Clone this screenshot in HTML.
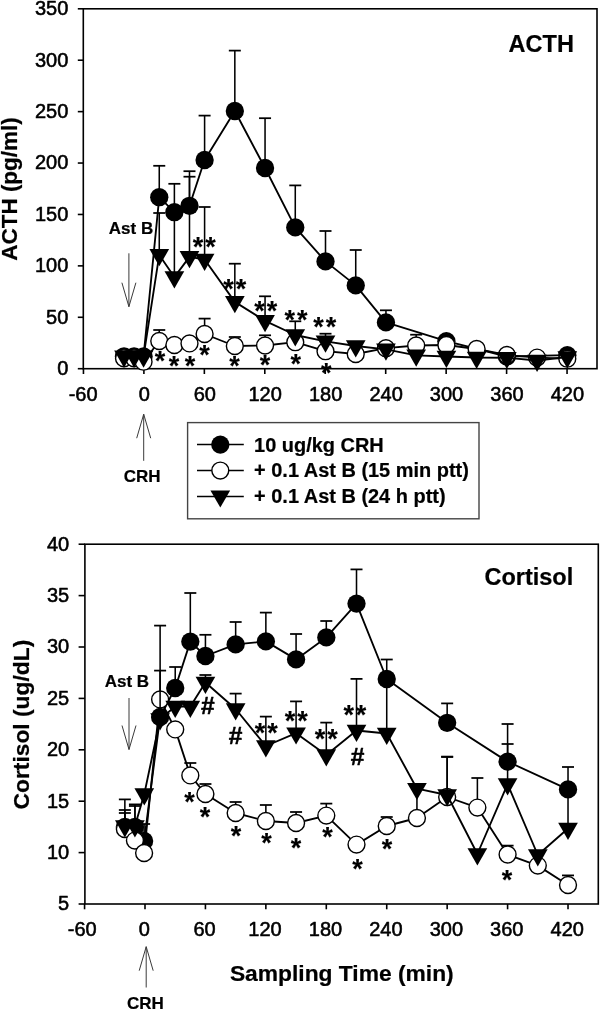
<!DOCTYPE html>
<html lang="en">
<head>
<meta charset="utf-8">
<title>ACTH and Cortisol response</title>
<style>
html,body{margin:0;padding:0;background:#fff;}
body{width:600px;height:1010px;overflow:hidden;}
svg{display:block;font-family:"Liberation Sans", Arial, Helvetica, sans-serif;}
svg text{font-family:"Liberation Sans", Arial, Helvetica, sans-serif;stroke:#000;stroke-width:0.55px;stroke-linejoin:round;}
svg text.b{stroke-width:0.22px;}
svg text.a{stroke-width:0.15px;}
svg text.h{stroke-width:0.5px;}
</style>
</head>
<body>
<svg width="600" height="1010" viewBox="0 0 600 1010">
<rect x="0" y="0" width="600" height="1010" fill="#fff"/>
<g fill="#000">
<line x1="77.80" y1="368.70" x2="83.30" y2="368.70" stroke="#000" stroke-width="1.6"/>
<line x1="77.80" y1="317.29" x2="83.30" y2="317.29" stroke="#000" stroke-width="1.6"/>
<line x1="77.80" y1="265.87" x2="83.30" y2="265.87" stroke="#000" stroke-width="1.6"/>
<line x1="77.80" y1="214.46" x2="83.30" y2="214.46" stroke="#000" stroke-width="1.6"/>
<line x1="77.80" y1="163.04" x2="83.30" y2="163.04" stroke="#000" stroke-width="1.6"/>
<line x1="77.80" y1="111.63" x2="83.30" y2="111.63" stroke="#000" stroke-width="1.6"/>
<line x1="77.80" y1="60.21" x2="83.30" y2="60.21" stroke="#000" stroke-width="1.6"/>
<line x1="77.80" y1="8.80" x2="83.30" y2="8.80" stroke="#000" stroke-width="1.6"/>
<line x1="83.45" y1="368.70" x2="83.45" y2="374.00" stroke="#000" stroke-width="1.6"/>
<line x1="143.90" y1="368.70" x2="143.90" y2="374.00" stroke="#000" stroke-width="1.6"/>
<line x1="204.35" y1="368.70" x2="204.35" y2="374.00" stroke="#000" stroke-width="1.6"/>
<line x1="264.80" y1="368.70" x2="264.80" y2="374.00" stroke="#000" stroke-width="1.6"/>
<line x1="325.25" y1="368.70" x2="325.25" y2="374.00" stroke="#000" stroke-width="1.6"/>
<line x1="385.70" y1="368.70" x2="385.70" y2="374.00" stroke="#000" stroke-width="1.6"/>
<line x1="446.15" y1="368.70" x2="446.15" y2="374.00" stroke="#000" stroke-width="1.6"/>
<line x1="506.60" y1="368.70" x2="506.60" y2="374.00" stroke="#000" stroke-width="1.6"/>
<line x1="567.05" y1="368.70" x2="567.05" y2="374.00" stroke="#000" stroke-width="1.6"/>
<rect x="83.30" y="8.80" width="513.70" height="359.90" fill="none" stroke="#000" stroke-width="1.6"/>
<text x="68.30" y="375.00" font-size="20" text-anchor="end" font-weight="normal">0</text>
<text x="68.30" y="323.59" font-size="20" text-anchor="end" font-weight="normal">50</text>
<text x="68.30" y="272.17" font-size="20" text-anchor="end" font-weight="normal">100</text>
<text x="68.30" y="220.76" font-size="20" text-anchor="end" font-weight="normal">150</text>
<text x="68.30" y="169.34" font-size="20" text-anchor="end" font-weight="normal">200</text>
<text x="68.30" y="117.93" font-size="20" text-anchor="end" font-weight="normal">250</text>
<text x="68.30" y="66.51" font-size="20" text-anchor="end" font-weight="normal">300</text>
<text x="68.30" y="15.10" font-size="20" text-anchor="end" font-weight="normal">350</text>
<text x="83.15" y="401.20" font-size="20" text-anchor="middle" font-weight="normal">-60</text>
<text x="144.30" y="401.20" font-size="20" text-anchor="middle" font-weight="normal">0</text>
<text x="204.75" y="401.20" font-size="20" text-anchor="middle" font-weight="normal">60</text>
<text x="265.20" y="401.20" font-size="20" text-anchor="middle" font-weight="normal">120</text>
<text x="325.65" y="401.20" font-size="20" text-anchor="middle" font-weight="normal">180</text>
<text x="386.10" y="401.20" font-size="20" text-anchor="middle" font-weight="normal">240</text>
<text x="446.55" y="401.20" font-size="20" text-anchor="middle" font-weight="normal">300</text>
<text x="507.00" y="401.20" font-size="20" text-anchor="middle" font-weight="normal">360</text>
<text x="567.45" y="401.20" font-size="20" text-anchor="middle" font-weight="normal">420</text>
<line x1="78.60" y1="904.00" x2="84.90" y2="904.00" stroke="#000" stroke-width="1.6"/>
<line x1="78.60" y1="852.60" x2="84.90" y2="852.60" stroke="#000" stroke-width="1.6"/>
<line x1="78.60" y1="801.20" x2="84.90" y2="801.20" stroke="#000" stroke-width="1.6"/>
<line x1="78.60" y1="749.80" x2="84.90" y2="749.80" stroke="#000" stroke-width="1.6"/>
<line x1="78.60" y1="698.40" x2="84.90" y2="698.40" stroke="#000" stroke-width="1.6"/>
<line x1="78.60" y1="647.00" x2="84.90" y2="647.00" stroke="#000" stroke-width="1.6"/>
<line x1="78.60" y1="595.60" x2="84.90" y2="595.60" stroke="#000" stroke-width="1.6"/>
<line x1="78.60" y1="544.20" x2="84.90" y2="544.20" stroke="#000" stroke-width="1.6"/>
<line x1="84.57" y1="904.00" x2="84.57" y2="909.30" stroke="#000" stroke-width="1.6"/>
<line x1="145.00" y1="904.00" x2="145.00" y2="909.30" stroke="#000" stroke-width="1.6"/>
<line x1="205.43" y1="904.00" x2="205.43" y2="909.30" stroke="#000" stroke-width="1.6"/>
<line x1="265.86" y1="904.00" x2="265.86" y2="909.30" stroke="#000" stroke-width="1.6"/>
<line x1="326.30" y1="904.00" x2="326.30" y2="909.30" stroke="#000" stroke-width="1.6"/>
<line x1="386.73" y1="904.00" x2="386.73" y2="909.30" stroke="#000" stroke-width="1.6"/>
<line x1="447.16" y1="904.00" x2="447.16" y2="909.30" stroke="#000" stroke-width="1.6"/>
<line x1="507.59" y1="904.00" x2="507.59" y2="909.30" stroke="#000" stroke-width="1.6"/>
<line x1="568.02" y1="904.00" x2="568.02" y2="909.30" stroke="#000" stroke-width="1.6"/>
<rect x="84.90" y="544.20" width="513.40" height="359.80" fill="none" stroke="#000" stroke-width="1.6"/>
<text x="69.20" y="910.30" font-size="20" text-anchor="end" font-weight="normal">5</text>
<text x="69.20" y="858.90" font-size="20" text-anchor="end" font-weight="normal">10</text>
<text x="69.20" y="807.50" font-size="20" text-anchor="end" font-weight="normal">15</text>
<text x="69.20" y="756.10" font-size="20" text-anchor="end" font-weight="normal">20</text>
<text x="69.20" y="704.70" font-size="20" text-anchor="end" font-weight="normal">25</text>
<text x="69.20" y="653.30" font-size="20" text-anchor="end" font-weight="normal">30</text>
<text x="69.20" y="601.90" font-size="20" text-anchor="end" font-weight="normal">35</text>
<text x="69.20" y="550.50" font-size="20" text-anchor="end" font-weight="normal">40</text>
<text x="82.27" y="936.10" font-size="20" text-anchor="middle" font-weight="normal">-60</text>
<text x="144.20" y="936.10" font-size="20" text-anchor="middle" font-weight="normal">0</text>
<text x="204.63" y="936.10" font-size="20" text-anchor="middle" font-weight="normal">60</text>
<text x="265.06" y="936.10" font-size="20" text-anchor="middle" font-weight="normal">120</text>
<text x="325.50" y="936.10" font-size="20" text-anchor="middle" font-weight="normal">180</text>
<text x="385.93" y="936.10" font-size="20" text-anchor="middle" font-weight="normal">240</text>
<text x="446.36" y="936.10" font-size="20" text-anchor="middle" font-weight="normal">300</text>
<text x="506.79" y="936.10" font-size="20" text-anchor="middle" font-weight="normal">360</text>
<text x="567.22" y="936.10" font-size="20" text-anchor="middle" font-weight="normal">420</text>
<polyline points="124.00,356.30 134.08,356.30 143.55,356.50 159.26,197.20 174.38,212.20 189.49,205.80 204.60,160.00 234.83,111.00 265.05,168.00 295.27,227.40 325.50,261.40 355.73,285.40 385.95,322.40 446.40,341.20 506.85,356.50 567.30,355.20" fill="none" stroke="#000" stroke-width="1.85" stroke-linejoin="round"/>
<line x1="159.26" y1="197.20" x2="159.26" y2="165.80" stroke="#000" stroke-width="1.55"/>
<line x1="153.26" y1="165.80" x2="165.26" y2="165.80" stroke="#000" stroke-width="1.75"/>
<line x1="174.38" y1="212.20" x2="174.38" y2="183.80" stroke="#000" stroke-width="1.55"/>
<line x1="168.38" y1="183.80" x2="180.38" y2="183.80" stroke="#000" stroke-width="1.75"/>
<line x1="189.49" y1="205.80" x2="189.49" y2="171.20" stroke="#000" stroke-width="1.55"/>
<line x1="183.49" y1="171.20" x2="195.49" y2="171.20" stroke="#000" stroke-width="1.75"/>
<line x1="204.60" y1="160.00" x2="204.60" y2="115.60" stroke="#000" stroke-width="1.55"/>
<line x1="198.60" y1="115.60" x2="210.60" y2="115.60" stroke="#000" stroke-width="1.75"/>
<line x1="234.83" y1="111.00" x2="234.83" y2="50.60" stroke="#000" stroke-width="1.55"/>
<line x1="228.83" y1="50.60" x2="240.83" y2="50.60" stroke="#000" stroke-width="1.75"/>
<line x1="265.05" y1="168.00" x2="265.05" y2="118.20" stroke="#000" stroke-width="1.55"/>
<line x1="259.05" y1="118.20" x2="271.05" y2="118.20" stroke="#000" stroke-width="1.75"/>
<line x1="295.27" y1="227.40" x2="295.27" y2="185.40" stroke="#000" stroke-width="1.55"/>
<line x1="289.27" y1="185.40" x2="301.27" y2="185.40" stroke="#000" stroke-width="1.75"/>
<line x1="325.50" y1="261.40" x2="325.50" y2="231.00" stroke="#000" stroke-width="1.55"/>
<line x1="319.50" y1="231.00" x2="331.50" y2="231.00" stroke="#000" stroke-width="1.75"/>
<line x1="355.73" y1="285.40" x2="355.73" y2="250.00" stroke="#000" stroke-width="1.55"/>
<line x1="349.73" y1="250.00" x2="361.73" y2="250.00" stroke="#000" stroke-width="1.75"/>
<line x1="385.95" y1="322.40" x2="385.95" y2="310.30" stroke="#000" stroke-width="1.55"/>
<line x1="379.95" y1="310.30" x2="391.95" y2="310.30" stroke="#000" stroke-width="1.75"/>
<circle cx="124.00" cy="356.30" r="9.15" fill="#000"/>
<circle cx="134.08" cy="356.30" r="9.15" fill="#000"/>
<circle cx="143.55" cy="356.50" r="9.15" fill="#000"/>
<circle cx="159.26" cy="197.20" r="9.15" fill="#000"/>
<circle cx="174.38" cy="212.20" r="9.15" fill="#000"/>
<circle cx="189.49" cy="205.80" r="9.15" fill="#000"/>
<circle cx="204.60" cy="160.00" r="9.15" fill="#000"/>
<circle cx="234.83" cy="111.00" r="9.15" fill="#000"/>
<circle cx="265.05" cy="168.00" r="9.15" fill="#000"/>
<circle cx="295.27" cy="227.40" r="9.15" fill="#000"/>
<circle cx="325.50" cy="261.40" r="9.15" fill="#000"/>
<circle cx="355.73" cy="285.40" r="9.15" fill="#000"/>
<circle cx="385.95" cy="322.40" r="9.15" fill="#000"/>
<circle cx="446.40" cy="341.20" r="9.15" fill="#000"/>
<circle cx="506.85" cy="356.50" r="9.15" fill="#000"/>
<circle cx="567.30" cy="355.20" r="9.15" fill="#000"/>
<polyline points="124.00,358.30 134.08,358.30 143.55,361.70 159.26,341.00 174.38,345.00 189.49,343.40 204.60,334.00 234.83,346.00 265.05,345.50 295.27,342.20 325.50,351.20 355.73,354.00 385.95,348.20 416.18,345.50 446.40,345.00 476.62,349.00 506.85,355.00 537.08,357.60 567.30,358.70" fill="none" stroke="#000" stroke-width="1.85" stroke-linejoin="round"/>
<line x1="159.26" y1="341.00" x2="159.26" y2="330.00" stroke="#000" stroke-width="1.55"/>
<line x1="153.26" y1="330.00" x2="165.26" y2="330.00" stroke="#000" stroke-width="1.75"/>
<line x1="204.60" y1="334.00" x2="204.60" y2="318.60" stroke="#000" stroke-width="1.55"/>
<line x1="198.60" y1="318.60" x2="210.60" y2="318.60" stroke="#000" stroke-width="1.75"/>
<line x1="234.83" y1="346.00" x2="234.83" y2="337.00" stroke="#000" stroke-width="1.55"/>
<line x1="228.83" y1="337.00" x2="240.83" y2="337.00" stroke="#000" stroke-width="1.75"/>
<line x1="265.05" y1="345.50" x2="265.05" y2="335.30" stroke="#000" stroke-width="1.55"/>
<line x1="259.05" y1="335.30" x2="271.05" y2="335.30" stroke="#000" stroke-width="1.75"/>
<line x1="416.18" y1="345.50" x2="416.18" y2="334.70" stroke="#000" stroke-width="1.55"/>
<line x1="410.18" y1="334.70" x2="422.18" y2="334.70" stroke="#000" stroke-width="1.75"/>
<circle cx="124.00" cy="358.30" r="8.45" fill="#fff" stroke="#000" stroke-width="1.4"/>
<circle cx="134.08" cy="358.30" r="8.45" fill="#fff" stroke="#000" stroke-width="1.4"/>
<circle cx="143.55" cy="361.70" r="8.45" fill="#fff" stroke="#000" stroke-width="1.4"/>
<circle cx="159.26" cy="341.00" r="8.45" fill="#fff" stroke="#000" stroke-width="1.4"/>
<circle cx="174.38" cy="345.00" r="8.45" fill="#fff" stroke="#000" stroke-width="1.4"/>
<circle cx="189.49" cy="343.40" r="8.45" fill="#fff" stroke="#000" stroke-width="1.4"/>
<circle cx="204.60" cy="334.00" r="8.45" fill="#fff" stroke="#000" stroke-width="1.4"/>
<circle cx="234.83" cy="346.00" r="8.45" fill="#fff" stroke="#000" stroke-width="1.4"/>
<circle cx="265.05" cy="345.50" r="8.45" fill="#fff" stroke="#000" stroke-width="1.4"/>
<circle cx="295.27" cy="342.20" r="8.45" fill="#fff" stroke="#000" stroke-width="1.4"/>
<circle cx="325.50" cy="351.20" r="8.45" fill="#fff" stroke="#000" stroke-width="1.4"/>
<circle cx="355.73" cy="354.00" r="8.45" fill="#fff" stroke="#000" stroke-width="1.4"/>
<circle cx="385.95" cy="348.20" r="8.45" fill="#fff" stroke="#000" stroke-width="1.4"/>
<circle cx="416.18" cy="345.50" r="8.45" fill="#fff" stroke="#000" stroke-width="1.4"/>
<circle cx="446.40" cy="345.00" r="8.45" fill="#fff" stroke="#000" stroke-width="1.4"/>
<circle cx="476.62" cy="349.00" r="8.45" fill="#fff" stroke="#000" stroke-width="1.4"/>
<circle cx="506.85" cy="355.00" r="8.45" fill="#fff" stroke="#000" stroke-width="1.4"/>
<circle cx="537.08" cy="357.60" r="8.45" fill="#fff" stroke="#000" stroke-width="1.4"/>
<circle cx="567.30" cy="358.70" r="8.45" fill="#fff" stroke="#000" stroke-width="1.4"/>
<polyline points="124.00,356.30 134.08,356.30 143.55,356.30 159.26,254.90 174.38,277.10 189.49,256.90 204.60,259.50 234.83,301.90 265.05,320.80 295.27,335.00 325.50,341.30 355.73,346.00 385.95,349.30 416.18,355.30 446.40,356.50 476.62,357.50 506.85,357.70 537.08,360.50 567.30,357.00" fill="none" stroke="#000" stroke-width="1.85" stroke-linejoin="round"/>
<line x1="159.26" y1="254.90" x2="159.26" y2="213.00" stroke="#000" stroke-width="1.55"/>
<line x1="153.26" y1="213.00" x2="165.26" y2="213.00" stroke="#000" stroke-width="1.75"/>
<line x1="174.38" y1="277.10" x2="174.38" y2="210.00" stroke="#000" stroke-width="1.55"/>
<line x1="168.38" y1="210.00" x2="180.38" y2="210.00" stroke="#000" stroke-width="1.75"/>
<line x1="189.49" y1="256.90" x2="189.49" y2="176.70" stroke="#000" stroke-width="1.55"/>
<line x1="183.49" y1="176.70" x2="195.49" y2="176.70" stroke="#000" stroke-width="1.75"/>
<line x1="204.60" y1="259.50" x2="204.60" y2="207.00" stroke="#000" stroke-width="1.55"/>
<line x1="198.60" y1="207.00" x2="210.60" y2="207.00" stroke="#000" stroke-width="1.75"/>
<line x1="234.83" y1="301.90" x2="234.83" y2="263.70" stroke="#000" stroke-width="1.55"/>
<line x1="228.83" y1="263.70" x2="240.83" y2="263.70" stroke="#000" stroke-width="1.75"/>
<line x1="265.05" y1="320.80" x2="265.05" y2="296.30" stroke="#000" stroke-width="1.55"/>
<line x1="259.05" y1="296.30" x2="271.05" y2="296.30" stroke="#000" stroke-width="1.75"/>
<line x1="295.27" y1="335.00" x2="295.27" y2="321.30" stroke="#000" stroke-width="1.55"/>
<line x1="289.27" y1="321.30" x2="301.27" y2="321.30" stroke="#000" stroke-width="1.75"/>
<line x1="325.50" y1="341.30" x2="325.50" y2="333.70" stroke="#000" stroke-width="1.55"/>
<line x1="319.50" y1="333.70" x2="331.50" y2="333.70" stroke="#000" stroke-width="1.75"/>
<polygon points="114.15,350.50 133.85,350.50 124.00,367.70" fill="#000"/>
<polygon points="124.23,350.50 143.93,350.50 134.08,367.70" fill="#000"/>
<polygon points="133.70,350.50 153.40,350.50 143.55,367.70" fill="#000"/>
<polygon points="149.41,249.10 169.11,249.10 159.26,266.30" fill="#000"/>
<polygon points="164.53,271.30 184.22,271.30 174.38,288.50" fill="#000"/>
<polygon points="179.64,251.10 199.34,251.10 189.49,268.30" fill="#000"/>
<polygon points="194.75,253.70 214.45,253.70 204.60,270.90" fill="#000"/>
<polygon points="224.98,296.10 244.68,296.10 234.83,313.30" fill="#000"/>
<polygon points="255.20,315.00 274.90,315.00 265.05,332.20" fill="#000"/>
<polygon points="285.42,329.20 305.12,329.20 295.27,346.40" fill="#000"/>
<polygon points="315.65,335.50 335.35,335.50 325.50,352.70" fill="#000"/>
<polygon points="345.88,340.20 365.58,340.20 355.73,357.40" fill="#000"/>
<polygon points="376.10,343.50 395.80,343.50 385.95,360.70" fill="#000"/>
<polygon points="406.33,349.50 426.03,349.50 416.18,366.70" fill="#000"/>
<polygon points="436.55,350.70 456.25,350.70 446.40,367.90" fill="#000"/>
<polygon points="466.77,351.70 486.48,351.70 476.62,368.90" fill="#000"/>
<polygon points="497.00,351.90 516.70,351.90 506.85,369.10" fill="#000"/>
<polygon points="527.23,354.70 546.93,354.70 537.08,371.90" fill="#000"/>
<polygon points="557.45,351.20 577.15,351.20 567.30,368.40" fill="#000"/>
<polyline points="124.86,827.00 134.93,827.00 144.10,841.00 160.11,717.00 175.22,688.00 190.32,641.60 205.43,656.00 235.65,644.40 265.86,641.40 296.08,659.40 326.30,637.40 356.51,603.60 386.73,679.00 447.16,722.80 507.59,761.60 568.02,789.40" fill="none" stroke="#000" stroke-width="1.85" stroke-linejoin="round"/>
<line x1="124.86" y1="827.00" x2="124.86" y2="799.40" stroke="#000" stroke-width="1.55"/>
<line x1="118.86" y1="799.40" x2="130.86" y2="799.40" stroke="#000" stroke-width="1.75"/>
<line x1="134.93" y1="827.00" x2="134.93" y2="806.00" stroke="#000" stroke-width="1.55"/>
<line x1="128.93" y1="806.00" x2="140.93" y2="806.00" stroke="#000" stroke-width="1.75"/>
<line x1="144.10" y1="841.00" x2="144.10" y2="824.00" stroke="#000" stroke-width="1.55"/>
<line x1="138.10" y1="824.00" x2="150.10" y2="824.00" stroke="#000" stroke-width="1.75"/>
<line x1="160.11" y1="717.00" x2="160.11" y2="670.60" stroke="#000" stroke-width="1.55"/>
<line x1="154.11" y1="670.60" x2="166.11" y2="670.60" stroke="#000" stroke-width="1.75"/>
<line x1="175.22" y1="688.00" x2="175.22" y2="667.00" stroke="#000" stroke-width="1.55"/>
<line x1="169.22" y1="667.00" x2="181.22" y2="667.00" stroke="#000" stroke-width="1.75"/>
<line x1="190.32" y1="641.60" x2="190.32" y2="593.00" stroke="#000" stroke-width="1.55"/>
<line x1="184.32" y1="593.00" x2="196.32" y2="593.00" stroke="#000" stroke-width="1.75"/>
<line x1="205.43" y1="656.00" x2="205.43" y2="634.80" stroke="#000" stroke-width="1.55"/>
<line x1="199.43" y1="634.80" x2="211.43" y2="634.80" stroke="#000" stroke-width="1.75"/>
<line x1="235.65" y1="644.40" x2="235.65" y2="622.00" stroke="#000" stroke-width="1.55"/>
<line x1="229.65" y1="622.00" x2="241.65" y2="622.00" stroke="#000" stroke-width="1.75"/>
<line x1="265.86" y1="641.40" x2="265.86" y2="612.60" stroke="#000" stroke-width="1.55"/>
<line x1="259.86" y1="612.60" x2="271.86" y2="612.60" stroke="#000" stroke-width="1.75"/>
<line x1="296.08" y1="659.40" x2="296.08" y2="634.00" stroke="#000" stroke-width="1.55"/>
<line x1="290.08" y1="634.00" x2="302.08" y2="634.00" stroke="#000" stroke-width="1.75"/>
<line x1="326.30" y1="637.40" x2="326.30" y2="621.00" stroke="#000" stroke-width="1.55"/>
<line x1="320.30" y1="621.00" x2="332.30" y2="621.00" stroke="#000" stroke-width="1.75"/>
<line x1="356.51" y1="603.60" x2="356.51" y2="569.40" stroke="#000" stroke-width="1.55"/>
<line x1="350.51" y1="569.40" x2="362.51" y2="569.40" stroke="#000" stroke-width="1.75"/>
<line x1="386.73" y1="679.00" x2="386.73" y2="659.50" stroke="#000" stroke-width="1.55"/>
<line x1="380.73" y1="659.50" x2="392.73" y2="659.50" stroke="#000" stroke-width="1.75"/>
<line x1="447.16" y1="722.80" x2="447.16" y2="703.40" stroke="#000" stroke-width="1.55"/>
<line x1="441.16" y1="703.40" x2="453.16" y2="703.40" stroke="#000" stroke-width="1.75"/>
<line x1="507.59" y1="761.60" x2="507.59" y2="724.00" stroke="#000" stroke-width="1.55"/>
<line x1="501.59" y1="724.00" x2="513.59" y2="724.00" stroke="#000" stroke-width="1.75"/>
<line x1="568.02" y1="789.40" x2="568.02" y2="767.00" stroke="#000" stroke-width="1.55"/>
<line x1="562.02" y1="767.00" x2="574.02" y2="767.00" stroke="#000" stroke-width="1.75"/>
<circle cx="124.86" cy="827.00" r="9.15" fill="#000"/>
<circle cx="134.93" cy="827.00" r="9.15" fill="#000"/>
<circle cx="144.10" cy="841.00" r="9.15" fill="#000"/>
<circle cx="160.11" cy="717.00" r="9.15" fill="#000"/>
<circle cx="175.22" cy="688.00" r="9.15" fill="#000"/>
<circle cx="190.32" cy="641.60" r="9.15" fill="#000"/>
<circle cx="205.43" cy="656.00" r="9.15" fill="#000"/>
<circle cx="235.65" cy="644.40" r="9.15" fill="#000"/>
<circle cx="265.86" cy="641.40" r="9.15" fill="#000"/>
<circle cx="296.08" cy="659.40" r="9.15" fill="#000"/>
<circle cx="326.30" cy="637.40" r="9.15" fill="#000"/>
<circle cx="356.51" cy="603.60" r="9.15" fill="#000"/>
<circle cx="386.73" cy="679.00" r="9.15" fill="#000"/>
<circle cx="447.16" cy="722.80" r="9.15" fill="#000"/>
<circle cx="507.59" cy="761.60" r="9.15" fill="#000"/>
<circle cx="568.02" cy="789.40" r="9.15" fill="#000"/>
<polyline points="124.86,829.00 134.93,840.60 144.10,853.00 160.11,699.40 175.22,729.40 190.32,775.40 205.43,794.00 235.65,813.00 265.86,821.00 296.08,823.00 326.30,815.60 356.51,844.60 386.73,826.00 416.94,818.00 447.16,797.00 477.38,807.60 507.59,854.50 537.81,865.60 568.02,885.00" fill="none" stroke="#000" stroke-width="1.85" stroke-linejoin="round"/>
<line x1="124.86" y1="829.00" x2="124.86" y2="810.00" stroke="#000" stroke-width="1.55"/>
<line x1="118.86" y1="810.00" x2="130.86" y2="810.00" stroke="#000" stroke-width="1.75"/>
<line x1="190.32" y1="775.40" x2="190.32" y2="763.00" stroke="#000" stroke-width="1.55"/>
<line x1="184.32" y1="763.00" x2="196.32" y2="763.00" stroke="#000" stroke-width="1.75"/>
<line x1="205.43" y1="794.00" x2="205.43" y2="784.00" stroke="#000" stroke-width="1.55"/>
<line x1="199.43" y1="784.00" x2="211.43" y2="784.00" stroke="#000" stroke-width="1.75"/>
<line x1="235.65" y1="813.00" x2="235.65" y2="802.00" stroke="#000" stroke-width="1.55"/>
<line x1="229.65" y1="802.00" x2="241.65" y2="802.00" stroke="#000" stroke-width="1.75"/>
<line x1="265.86" y1="821.00" x2="265.86" y2="805.00" stroke="#000" stroke-width="1.55"/>
<line x1="259.86" y1="805.00" x2="271.86" y2="805.00" stroke="#000" stroke-width="1.75"/>
<line x1="296.08" y1="823.00" x2="296.08" y2="812.00" stroke="#000" stroke-width="1.55"/>
<line x1="290.08" y1="812.00" x2="302.08" y2="812.00" stroke="#000" stroke-width="1.75"/>
<line x1="326.30" y1="815.60" x2="326.30" y2="803.60" stroke="#000" stroke-width="1.55"/>
<line x1="320.30" y1="803.60" x2="332.30" y2="803.60" stroke="#000" stroke-width="1.75"/>
<line x1="386.73" y1="826.00" x2="386.73" y2="817.00" stroke="#000" stroke-width="1.55"/>
<line x1="380.73" y1="817.00" x2="392.73" y2="817.00" stroke="#000" stroke-width="1.75"/>
<line x1="416.94" y1="818.00" x2="416.94" y2="787.00" stroke="#000" stroke-width="1.55"/>
<line x1="410.94" y1="787.00" x2="422.94" y2="787.00" stroke="#000" stroke-width="1.75"/>
<line x1="447.16" y1="797.00" x2="447.16" y2="757.00" stroke="#000" stroke-width="1.55"/>
<line x1="441.16" y1="757.00" x2="453.16" y2="757.00" stroke="#000" stroke-width="1.75"/>
<line x1="477.38" y1="807.60" x2="477.38" y2="778.00" stroke="#000" stroke-width="1.55"/>
<line x1="471.38" y1="778.00" x2="483.38" y2="778.00" stroke="#000" stroke-width="1.75"/>
<line x1="507.59" y1="854.50" x2="507.59" y2="845.60" stroke="#000" stroke-width="1.55"/>
<line x1="501.59" y1="845.60" x2="513.59" y2="845.60" stroke="#000" stroke-width="1.75"/>
<line x1="568.02" y1="885.00" x2="568.02" y2="875.40" stroke="#000" stroke-width="1.55"/>
<line x1="562.02" y1="875.40" x2="574.02" y2="875.40" stroke="#000" stroke-width="1.75"/>
<circle cx="124.86" cy="829.00" r="8.45" fill="#fff" stroke="#000" stroke-width="1.4"/>
<circle cx="134.93" cy="840.60" r="8.45" fill="#fff" stroke="#000" stroke-width="1.4"/>
<circle cx="144.10" cy="853.00" r="8.45" fill="#fff" stroke="#000" stroke-width="1.4"/>
<circle cx="160.11" cy="699.40" r="8.45" fill="#fff" stroke="#000" stroke-width="1.4"/>
<circle cx="175.22" cy="729.40" r="8.45" fill="#fff" stroke="#000" stroke-width="1.4"/>
<circle cx="190.32" cy="775.40" r="8.45" fill="#fff" stroke="#000" stroke-width="1.4"/>
<circle cx="205.43" cy="794.00" r="8.45" fill="#fff" stroke="#000" stroke-width="1.4"/>
<circle cx="235.65" cy="813.00" r="8.45" fill="#fff" stroke="#000" stroke-width="1.4"/>
<circle cx="265.86" cy="821.00" r="8.45" fill="#fff" stroke="#000" stroke-width="1.4"/>
<circle cx="296.08" cy="823.00" r="8.45" fill="#fff" stroke="#000" stroke-width="1.4"/>
<circle cx="326.30" cy="815.60" r="8.45" fill="#fff" stroke="#000" stroke-width="1.4"/>
<circle cx="356.51" cy="844.60" r="8.45" fill="#fff" stroke="#000" stroke-width="1.4"/>
<circle cx="386.73" cy="826.00" r="8.45" fill="#fff" stroke="#000" stroke-width="1.4"/>
<circle cx="416.94" cy="818.00" r="8.45" fill="#fff" stroke="#000" stroke-width="1.4"/>
<circle cx="447.16" cy="797.00" r="8.45" fill="#fff" stroke="#000" stroke-width="1.4"/>
<circle cx="477.38" cy="807.60" r="8.45" fill="#fff" stroke="#000" stroke-width="1.4"/>
<circle cx="507.59" cy="854.50" r="8.45" fill="#fff" stroke="#000" stroke-width="1.4"/>
<circle cx="537.81" cy="865.60" r="8.45" fill="#fff" stroke="#000" stroke-width="1.4"/>
<circle cx="568.02" cy="885.00" r="8.45" fill="#fff" stroke="#000" stroke-width="1.4"/>
<polyline points="124.86,826.00 134.93,826.00 144.30,794.00 160.11,719.00 175.22,706.50 190.32,706.50 205.43,682.50 235.65,709.00 265.86,746.00 296.08,733.20 326.30,755.00 356.51,730.50 386.73,733.50 416.94,788.70 447.16,795.00 477.38,854.00 507.59,784.10 537.81,855.00 568.02,828.50" fill="none" stroke="#000" stroke-width="1.85" stroke-linejoin="round"/>
<line x1="124.86" y1="826.00" x2="124.86" y2="813.00" stroke="#000" stroke-width="1.55"/>
<line x1="118.86" y1="813.00" x2="130.86" y2="813.00" stroke="#000" stroke-width="1.75"/>
<line x1="134.93" y1="826.00" x2="134.93" y2="804.40" stroke="#000" stroke-width="1.55"/>
<line x1="128.93" y1="804.40" x2="140.93" y2="804.40" stroke="#000" stroke-width="1.75"/>
<line x1="160.11" y1="719.00" x2="160.11" y2="625.60" stroke="#000" stroke-width="1.55"/>
<line x1="154.11" y1="625.60" x2="166.11" y2="625.60" stroke="#000" stroke-width="1.75"/>
<line x1="205.43" y1="682.50" x2="205.43" y2="675.00" stroke="#000" stroke-width="1.55"/>
<line x1="199.43" y1="675.00" x2="211.43" y2="675.00" stroke="#000" stroke-width="1.75"/>
<line x1="235.65" y1="709.00" x2="235.65" y2="693.60" stroke="#000" stroke-width="1.55"/>
<line x1="229.65" y1="693.60" x2="241.65" y2="693.60" stroke="#000" stroke-width="1.75"/>
<line x1="265.86" y1="746.00" x2="265.86" y2="716.60" stroke="#000" stroke-width="1.55"/>
<line x1="259.86" y1="716.60" x2="271.86" y2="716.60" stroke="#000" stroke-width="1.75"/>
<line x1="296.08" y1="733.20" x2="296.08" y2="701.40" stroke="#000" stroke-width="1.55"/>
<line x1="290.08" y1="701.40" x2="302.08" y2="701.40" stroke="#000" stroke-width="1.75"/>
<line x1="326.30" y1="755.00" x2="326.30" y2="722.60" stroke="#000" stroke-width="1.55"/>
<line x1="320.30" y1="722.60" x2="332.30" y2="722.60" stroke="#000" stroke-width="1.75"/>
<line x1="356.51" y1="730.50" x2="356.51" y2="678.90" stroke="#000" stroke-width="1.55"/>
<line x1="350.51" y1="678.90" x2="362.51" y2="678.90" stroke="#000" stroke-width="1.75"/>
<line x1="386.73" y1="733.50" x2="386.73" y2="679.00" stroke="#000" stroke-width="1.55"/>
<line x1="380.73" y1="679.00" x2="392.73" y2="679.00" stroke="#000" stroke-width="1.75"/>
<line x1="447.16" y1="795.00" x2="447.16" y2="756.60" stroke="#000" stroke-width="1.55"/>
<line x1="441.16" y1="756.60" x2="453.16" y2="756.60" stroke="#000" stroke-width="1.75"/>
<line x1="507.59" y1="784.10" x2="507.59" y2="744.00" stroke="#000" stroke-width="1.55"/>
<line x1="501.59" y1="744.00" x2="513.59" y2="744.00" stroke="#000" stroke-width="1.75"/>
<line x1="568.02" y1="828.50" x2="568.02" y2="790.00" stroke="#000" stroke-width="1.55"/>
<line x1="562.02" y1="790.00" x2="574.02" y2="790.00" stroke="#000" stroke-width="1.75"/>
<polygon points="115.01,820.20 134.71,820.20 124.86,837.40" fill="#000"/>
<polygon points="125.08,820.20 144.78,820.20 134.93,837.40" fill="#000"/>
<polygon points="134.45,788.20 154.15,788.20 144.30,805.40" fill="#000"/>
<polygon points="150.26,713.20 169.96,713.20 160.11,730.40" fill="#000"/>
<polygon points="165.37,700.70 185.07,700.70 175.22,717.90" fill="#000"/>
<polygon points="180.47,700.70 200.17,700.70 190.32,717.90" fill="#000"/>
<polygon points="195.58,676.70 215.28,676.70 205.43,693.90" fill="#000"/>
<polygon points="225.80,703.20 245.50,703.20 235.65,720.40" fill="#000"/>
<polygon points="256.01,740.20 275.71,740.20 265.86,757.40" fill="#000"/>
<polygon points="286.23,727.40 305.93,727.40 296.08,744.60" fill="#000"/>
<polygon points="316.45,749.20 336.15,749.20 326.30,766.40" fill="#000"/>
<polygon points="346.66,724.70 366.36,724.70 356.51,741.90" fill="#000"/>
<polygon points="376.88,727.70 396.58,727.70 386.73,744.90" fill="#000"/>
<polygon points="407.09,782.90 426.79,782.90 416.94,800.10" fill="#000"/>
<polygon points="437.31,789.20 457.01,789.20 447.16,806.40" fill="#000"/>
<polygon points="467.53,848.20 487.23,848.20 477.38,865.40" fill="#000"/>
<polygon points="497.74,778.30 517.44,778.30 507.59,795.50" fill="#000"/>
<polygon points="527.96,849.20 547.66,849.20 537.81,866.40" fill="#000"/>
<polygon points="558.17,822.70 577.87,822.70 568.02,839.90" fill="#000"/>
<text x="160.00" y="370.33" font-size="27" text-anchor="middle" font-weight="bold" class="a">*</text>
<text x="174.00" y="375.13" font-size="27" text-anchor="middle" font-weight="bold" class="a">*</text>
<text x="190.00" y="374.63" font-size="27" text-anchor="middle" font-weight="bold" class="a">*</text>
<text x="204.40" y="363.63" font-size="27" text-anchor="middle" font-weight="bold" class="a">*</text>
<text x="234.60" y="374.63" font-size="27" text-anchor="middle" font-weight="bold" class="a">*</text>
<text x="265.00" y="374.44" font-size="27" text-anchor="middle" font-weight="bold" class="a">*</text>
<text x="295.80" y="372.63" font-size="27" text-anchor="middle" font-weight="bold" class="a">*</text>
<text x="326.20" y="381.94" font-size="27" text-anchor="middle" font-weight="bold" class="a">*</text>
<text x="189.50" y="811.13" font-size="27" text-anchor="middle" font-weight="bold" class="a">*</text>
<text x="205.00" y="825.63" font-size="27" text-anchor="middle" font-weight="bold" class="a">*</text>
<text x="236.10" y="844.63" font-size="27" text-anchor="middle" font-weight="bold" class="a">*</text>
<text x="266.40" y="852.24" font-size="27" text-anchor="middle" font-weight="bold" class="a">*</text>
<text x="296.00" y="856.63" font-size="27" text-anchor="middle" font-weight="bold" class="a">*</text>
<text x="327.40" y="846.03" font-size="27" text-anchor="middle" font-weight="bold" class="a">*</text>
<text x="357.60" y="878.03" font-size="27" text-anchor="middle" font-weight="bold" class="a">*</text>
<text x="387.00" y="858.03" font-size="27" text-anchor="middle" font-weight="bold" class="a">*</text>
<text x="507.00" y="888.63" font-size="27" text-anchor="middle" font-weight="bold" class="a">*</text>
<text x="198.10" y="256.33" font-size="27" text-anchor="middle" font-weight="bold" class="a">*</text>
<text x="210.50" y="256.33" font-size="27" text-anchor="middle" font-weight="bold" class="a">*</text>
<text x="228.60" y="297.83" font-size="27" text-anchor="middle" font-weight="bold" class="a">*</text>
<text x="241.00" y="297.83" font-size="27" text-anchor="middle" font-weight="bold" class="a">*</text>
<text x="259.60" y="320.44" font-size="27" text-anchor="middle" font-weight="bold" class="a">*</text>
<text x="272.00" y="320.44" font-size="27" text-anchor="middle" font-weight="bold" class="a">*</text>
<text x="289.80" y="328.83" font-size="27" text-anchor="middle" font-weight="bold" class="a">*</text>
<text x="302.20" y="328.83" font-size="27" text-anchor="middle" font-weight="bold" class="a">*</text>
<text x="318.50" y="336.44" font-size="27" text-anchor="middle" font-weight="bold" class="a">*</text>
<text x="330.90" y="336.44" font-size="27" text-anchor="middle" font-weight="bold" class="a">*</text>
<text x="260.10" y="741.84" font-size="27" text-anchor="middle" font-weight="bold" class="a">*</text>
<text x="272.50" y="741.84" font-size="27" text-anchor="middle" font-weight="bold" class="a">*</text>
<text x="290.10" y="729.53" font-size="27" text-anchor="middle" font-weight="bold" class="a">*</text>
<text x="302.50" y="729.53" font-size="27" text-anchor="middle" font-weight="bold" class="a">*</text>
<text x="320.00" y="748.34" font-size="27" text-anchor="middle" font-weight="bold" class="a">*</text>
<text x="332.40" y="748.34" font-size="27" text-anchor="middle" font-weight="bold" class="a">*</text>
<text x="348.70" y="724.13" font-size="27" text-anchor="middle" font-weight="bold" class="a">*</text>
<text x="361.10" y="724.13" font-size="27" text-anchor="middle" font-weight="bold" class="a">*</text>
<text x="207.80" y="713.93" font-size="24.5" text-anchor="middle" font-weight="bold" class="h">#</text>
<text x="235.60" y="744.23" font-size="24.5" text-anchor="middle" font-weight="bold" class="h">#</text>
<text x="357.50" y="764.73" font-size="24.5" text-anchor="middle" font-weight="bold" class="h">#</text>
<text x="573.90" y="52.00" font-size="23.5" text-anchor="end" font-weight="bold" class="b">ACTH</text>
<text x="573.20" y="584.80" font-size="23.5" text-anchor="end" font-weight="bold" class="b">Cortisol</text>
<text x="108.80" y="234.00" font-size="17" text-anchor="start" font-weight="bold" class="b">Ast B</text>
<line x1="128.90" y1="253.30" x2="128.90" y2="306.70" stroke="#3a3a3a" stroke-width="1"/>
<polyline points="121.90,282.70 128.90,306.70 135.90,282.70" fill="none" stroke="#3a3a3a" stroke-width="1"/>
<text x="104.70" y="687.20" font-size="17" text-anchor="start" font-weight="bold" class="b">Ast B</text>
<line x1="129.00" y1="698.00" x2="129.00" y2="749.50" stroke="#3a3a3a" stroke-width="1"/>
<polyline points="122.00,725.50 129.00,749.50 136.00,725.50" fill="none" stroke="#3a3a3a" stroke-width="1"/>
<line x1="143.70" y1="414.20" x2="143.70" y2="460.80" stroke="#3a3a3a" stroke-width="1"/>
<polyline points="136.70,438.20 143.70,414.20 150.70,438.20" fill="none" stroke="#3a3a3a" stroke-width="1"/>
<text x="142.10" y="482.20" font-size="17" text-anchor="middle" font-weight="bold" class="b">CRH</text>
<line x1="146.20" y1="946.70" x2="146.20" y2="987.50" stroke="#3a3a3a" stroke-width="1"/>
<polyline points="139.20,970.70 146.20,946.70 153.20,970.70" fill="none" stroke="#3a3a3a" stroke-width="1"/>
<text transform="translate(16.8,189) rotate(-90)" font-size="22.5" text-anchor="middle" font-weight="bold" class="b">ACTH (pg/ml)</text>
<text transform="translate(28.7,724.6) rotate(-90)" font-size="22.8" text-anchor="middle" font-weight="bold" class="b">Cortisol (ug/dL)</text>
<text x="341.80" y="980.60" font-size="22.8" text-anchor="middle" font-weight="bold" class="b">Sampling Time (min)</text>
<text x="145.40" y="1008.80" font-size="17" text-anchor="middle" font-weight="bold" class="b">CRH</text>
<rect x="187.6" y="422.6" width="291.4" height="96.2" fill="#fff" stroke="#444" stroke-width="1.4"/>
<line x1="197.00" y1="444.60" x2="243.80" y2="444.60" stroke="#000" stroke-width="1.5"/>
<circle cx="220.30" cy="444.60" r="9.15" fill="#000"/>
<text x="254.10" y="451.50" font-size="19.95" text-anchor="start" font-weight="bold" class="b">10 ug/kg CRH</text>
<line x1="197.00" y1="470.55" x2="243.80" y2="470.55" stroke="#000" stroke-width="1.5"/>
<circle cx="220.30" cy="470.55" r="8.45" fill="#fff" stroke="#000" stroke-width="1.4"/>
<text x="254.10" y="477.45" font-size="19.95" text-anchor="start" font-weight="bold" class="b">+ 0.1 Ast B (15 min ptt)</text>
<line x1="197.00" y1="496.50" x2="243.80" y2="496.50" stroke="#000" stroke-width="1.5"/>
<polygon points="210.45,490.40 230.15,490.40 220.30,507.60" fill="#000"/>
<text x="254.10" y="503.40" font-size="19.95" text-anchor="start" font-weight="bold" class="b">+ 0.1 Ast B (24 h ptt)</text>
</g>
</svg>
</body>
</html>
